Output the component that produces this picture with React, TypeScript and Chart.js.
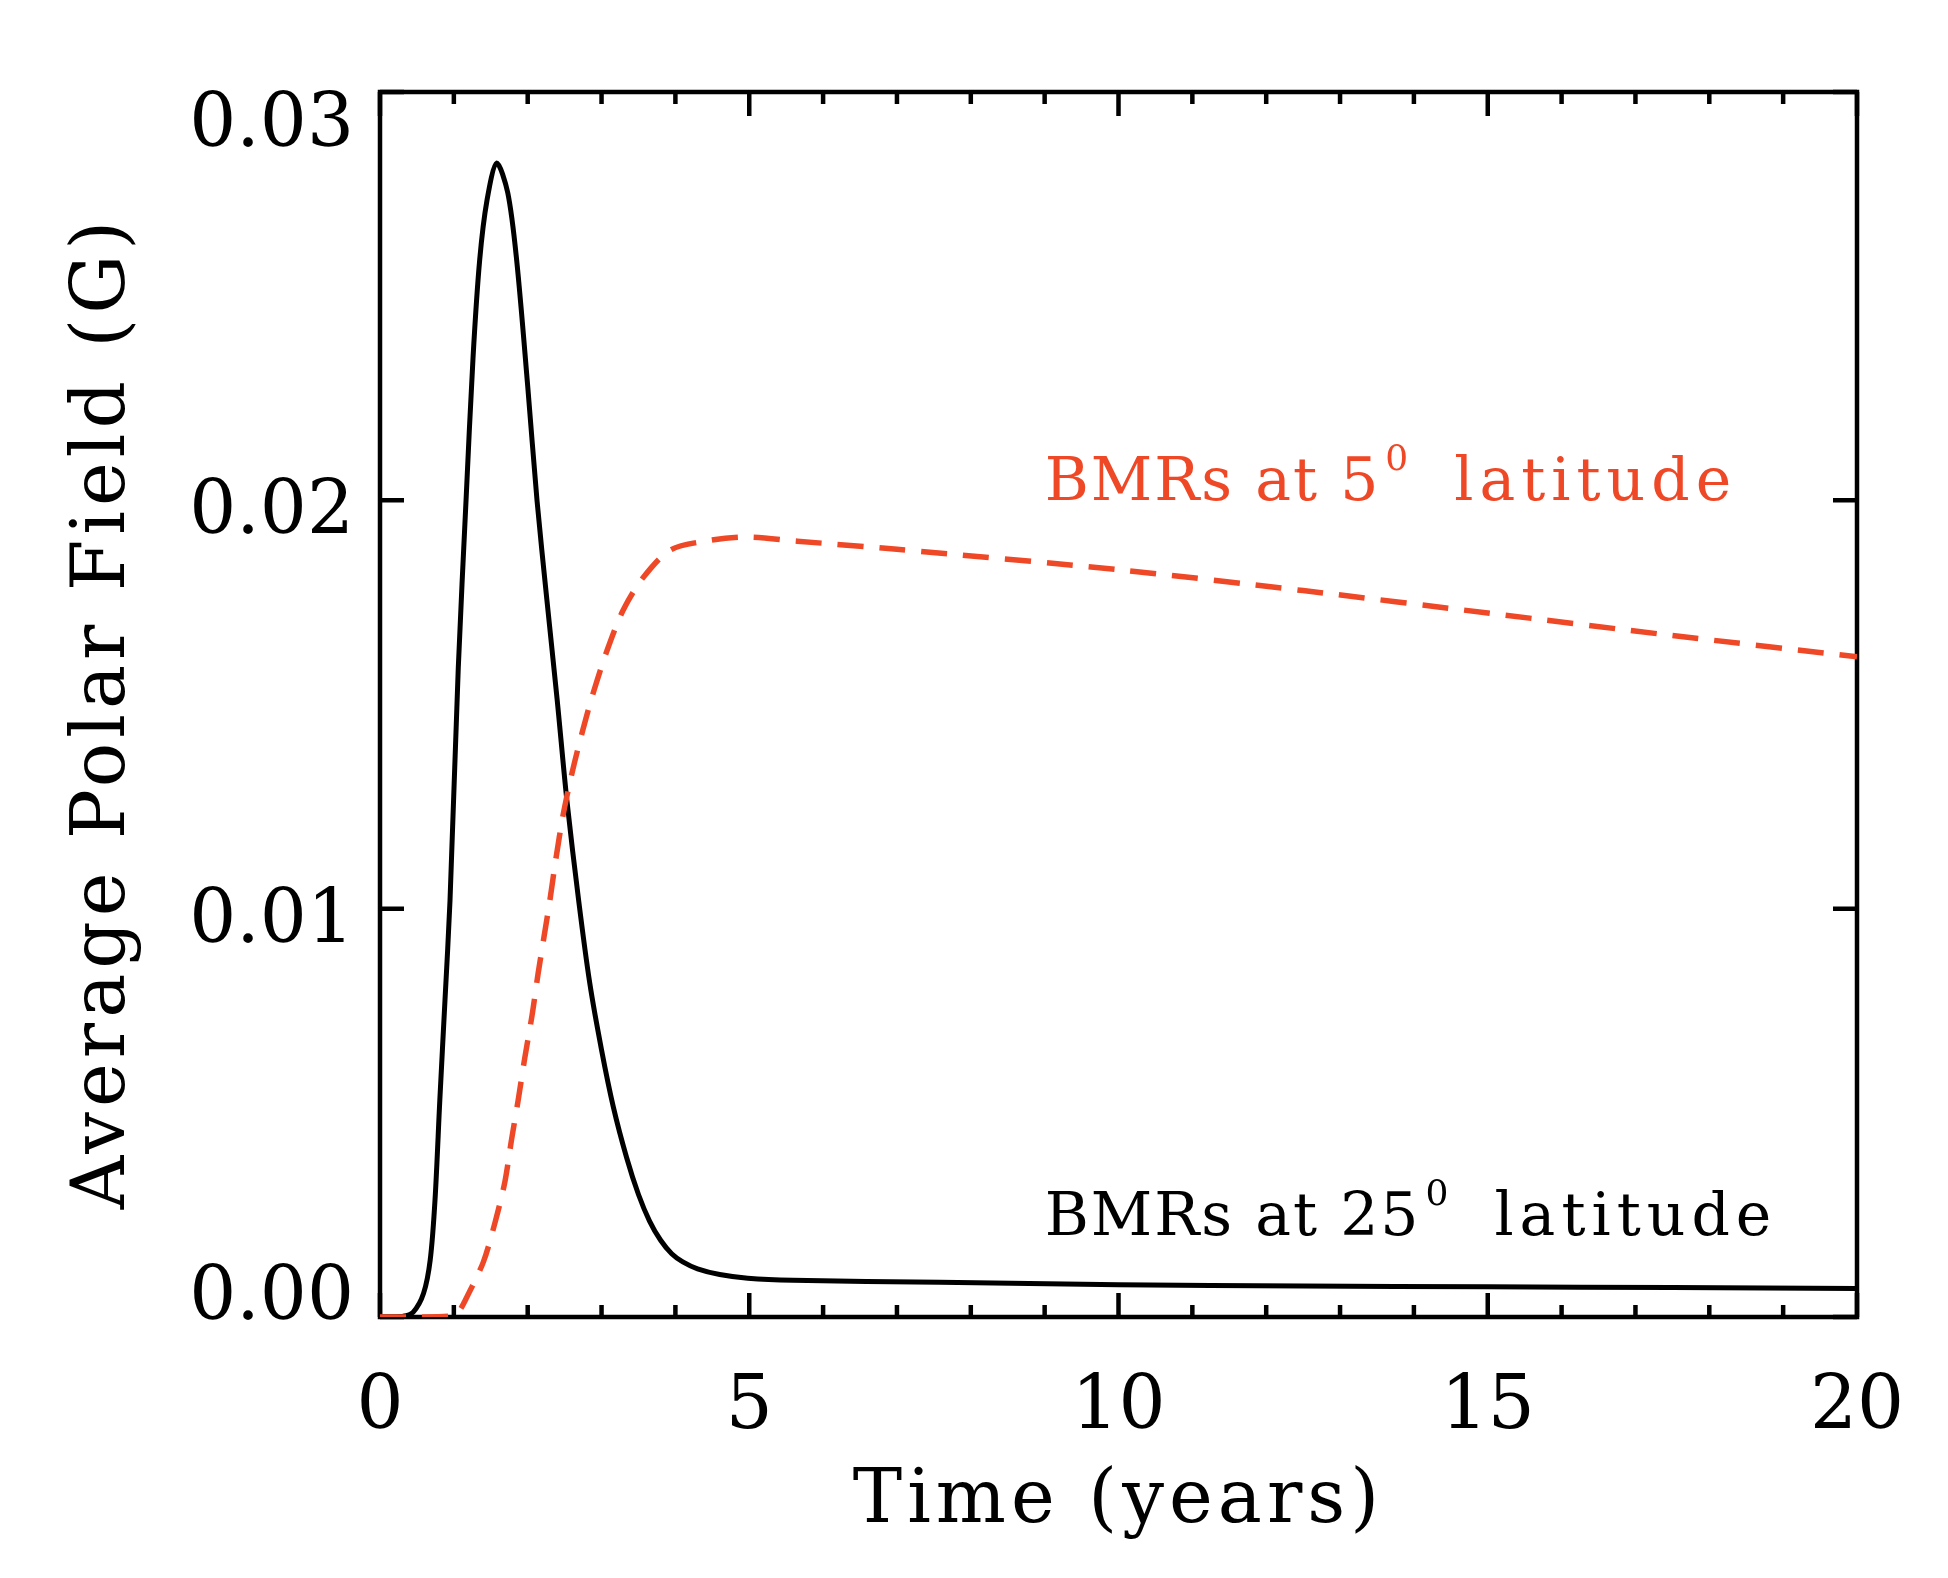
import { useEffect, useRef } from 'react';
import { Chart, ChartConfiguration, Plugin, registerables } from 'chart.js';

Chart.register(...registerables);

// BMRs at 25 deg latitude (solid black)
const time25 = [0, 0.31, 0.45, 0.59, 0.68, 0.745, 0.81, 0.88, 0.948, 1.06, 1.165, 1.26, 1.35, 1.45, 1.58, 1.73, 1.85, 2.0, 2.126, 2.26, 2.4, 2.53, 2.69, 2.84, 3.0, 3.16, 3.34, 3.5, 3.65, 3.8, 3.95, 4.1, 4.3, 4.6, 4.98, 5.59, 7.58, 10, 12.5, 15, 17.5, 20];
const field25 = [0, 0.00002, 0.00012, 0.00058, 0.0014, 0.00287, 0.00531, 0.00776, 0.0102, 0.0159, 0.02, 0.0235, 0.02589, 0.02736, 0.02826, 0.02753, 0.02589, 0.0228, 0.02, 0.01756, 0.0151, 0.01266, 0.0102, 0.00818, 0.00654, 0.00514, 0.0039, 0.003, 0.00235, 0.00188, 0.00155, 0.00135, 0.00118, 0.00104, 0.00095, 0.0009, 0.00085, 0.00079, 0.00076, 0.00074, 0.00072, 0.0007];

// BMRs at 5 deg latitude (dashed red)
const time5 = [0, 0.5, 0.95, 1.06, 1.19, 1.4, 1.56, 1.69, 1.78, 1.87, 1.96, 2.06, 2.14, 2.22, 2.3, 2.38, 2.48, 2.61, 2.75, 2.89, 3.07, 3.29, 3.56, 3.93, 4.4, 4.97, 5.65, 7, 10, 12.5, 15, 17.5, 20];
const field5 = [0, 0, 0.00002, 0.00012, 0.00054, 0.00135, 0.00233, 0.0033, 0.00433, 0.0053, 0.00634, 0.0074, 0.0084, 0.0093, 0.0102, 0.0112, 0.0123, 0.0134, 0.0144, 0.0153, 0.0163, 0.0173, 0.0181, 0.01878, 0.019, 0.0191, 0.019, 0.0188, 0.0183, 0.01779, 0.01724, 0.01669, 0.01617];

const xTicks = [0, 5, 10, 15, 20];
const xTickLabels = ['0', '5', '10', '15', '20'];
const yTicks = [0, 0.01, 0.02, 0.03];
const yTickLabels = ['0.00', '0.01', '0.02', '0.03'];

const xTitle = 'Time (years)';
const yTitle = 'Average Polar Field (G)';

const RED = '#ee4827';
const FONT = "'DejaVu Serif', serif";

const notes = [
  { text: 'BMRs at 5', sup: '0', rest: 'latitude', x: 9, y: 0.02, color: RED },
  { text: 'BMRs at 25', sup: '0', rest: 'latitude', x: 9, y: 0.002, color: '#000' },
];

// IDL-style box: inward ticks on all four sides, labels drawn by hand
const idlAxes: Plugin<'line'> = {
  id: 'idlAxes',
  beforeDatasetsDraw(chart) {
    const { ctx, chartArea: a } = chart;
    const x = chart.scales.x;
    const y = chart.scales.y;
    ctx.save();
    ctx.strokeStyle = '#000';
    ctx.lineWidth = 4.5;
    ctx.strokeRect(a.left, a.top, a.right - a.left, a.bottom - a.top);
    ctx.beginPath();
    x.ticks.forEach(t => {
      const px = x.getPixelForValue(t.value);
      const len = xTicks.includes(t.value) ? 24 : 12;
      ctx.moveTo(px, a.bottom);
      ctx.lineTo(px, a.bottom - len);
      ctx.moveTo(px, a.top);
      ctx.lineTo(px, a.top + len);
    });
    yTicks.forEach(v => {
      const py = y.getPixelForValue(v);
      ctx.moveTo(a.left, py);
      ctx.lineTo(a.left + 24, py);
      ctx.moveTo(a.right, py);
      ctx.lineTo(a.right - 24, py);
    });
    ctx.stroke();
    ctx.restore();
  },
  afterDraw(chart) {
    const { ctx, chartArea: a } = chart;
    const x = chart.scales.x;
    const y = chart.scales.y;
    const c = ctx as CanvasRenderingContext2D & { letterSpacing: string };
    c.save();
    c.fillStyle = '#000';
    c.textBaseline = 'alphabetic';
    c.font = `74px ${FONT}`;
    c.letterSpacing = '0px';

    c.textAlign = 'center';
    xTicks.forEach((v, i) => c.fillText(xTickLabels[i], x.getPixelForValue(v), a.bottom + 111));

    c.textAlign = 'right';
    yTicks.forEach((v, i) => {
      const base = Math.min(Math.max(y.getPixelForValue(v) + 33, a.top + 54), a.bottom + 2);
      c.fillText(yTickLabels[i], a.left - 26, base);
    });

    c.letterSpacing = '5px';
    c.textAlign = 'center';
    c.fillText(xTitle, (a.left + a.right) / 2, a.bottom + 205);
    c.save();
    c.translate(124, (a.top + a.bottom) / 2 + 8);
    c.rotate(-Math.PI / 2);
    c.fillText(yTitle, 0, 0);
    c.restore();

    c.textAlign = 'left';
    notes.forEach(n => {
      let px = x.getPixelForValue(n.x);
      const py = y.getPixelForValue(n.y);
      c.fillStyle = n.color;
      c.font = `60px ${FONT}`;
      c.letterSpacing = '2px';
      c.fillText(n.text, px, py);
      px += c.measureText(n.text).width + 5;
      c.font = `36px ${FONT}`;
      c.letterSpacing = '0px';
      c.fillText(n.sup, px, py - 30);
      px += c.measureText(n.sup).width + 46;
      c.font = `60px ${FONT}`;
      c.letterSpacing = '6px';
      c.fillText(n.rest, px, py);
    });
    c.restore();
  },
};

export default function App() {
  const canvasRef = useRef<HTMLCanvasElement>(null);

  useEffect(() => {
    if (!canvasRef.current) return;

    const config: ChartConfiguration<'line'> = {
      type: 'line',
      data: {
        datasets: [
          {
            label: 'BMRs at 5 latitude',
            data: time5.map((t, i) => ({ x: t, y: field5[i] })),
            borderColor: RED,
            borderWidth: 5.5,
            borderDash: [26, 16],
            pointRadius: 0,
            tension: 0.3,
            order: 0,
          },
          {
            label: 'BMRs at 25 latitude',
            data: time25.map((t, i) => ({ x: t, y: field25[i] })),
            borderColor: '#000',
            borderWidth: 5,
            pointRadius: 0,
            tension: 0.3,
            order: 1,
          },
        ],
      },
      options: {
        animation: false,
        responsive: true,
        maintainAspectRatio: false,
        events: [],
        layout: { padding: { left: 380, top: 92, right: 91, bottom: 261 } },
        scales: {
          x: { type: 'linear', min: 0, max: 20, display: false, ticks: { stepSize: 1 } },
          y: { type: 'linear', min: 0, max: 0.03, display: false },
        },
        plugins: {
          legend: { display: false },
          tooltip: { enabled: false },
        },
      },
      plugins: [idlAxes],
    };

    const chart = new Chart(canvasRef.current, config);
    return () => chart.destroy();
  }, []);

  return (
    <div style={{ position: 'absolute', left: 0, top: 0, width: 1948, height: 1578, background: '#fff' }}>
      <canvas ref={canvasRef} />
    </div>
  );
}
